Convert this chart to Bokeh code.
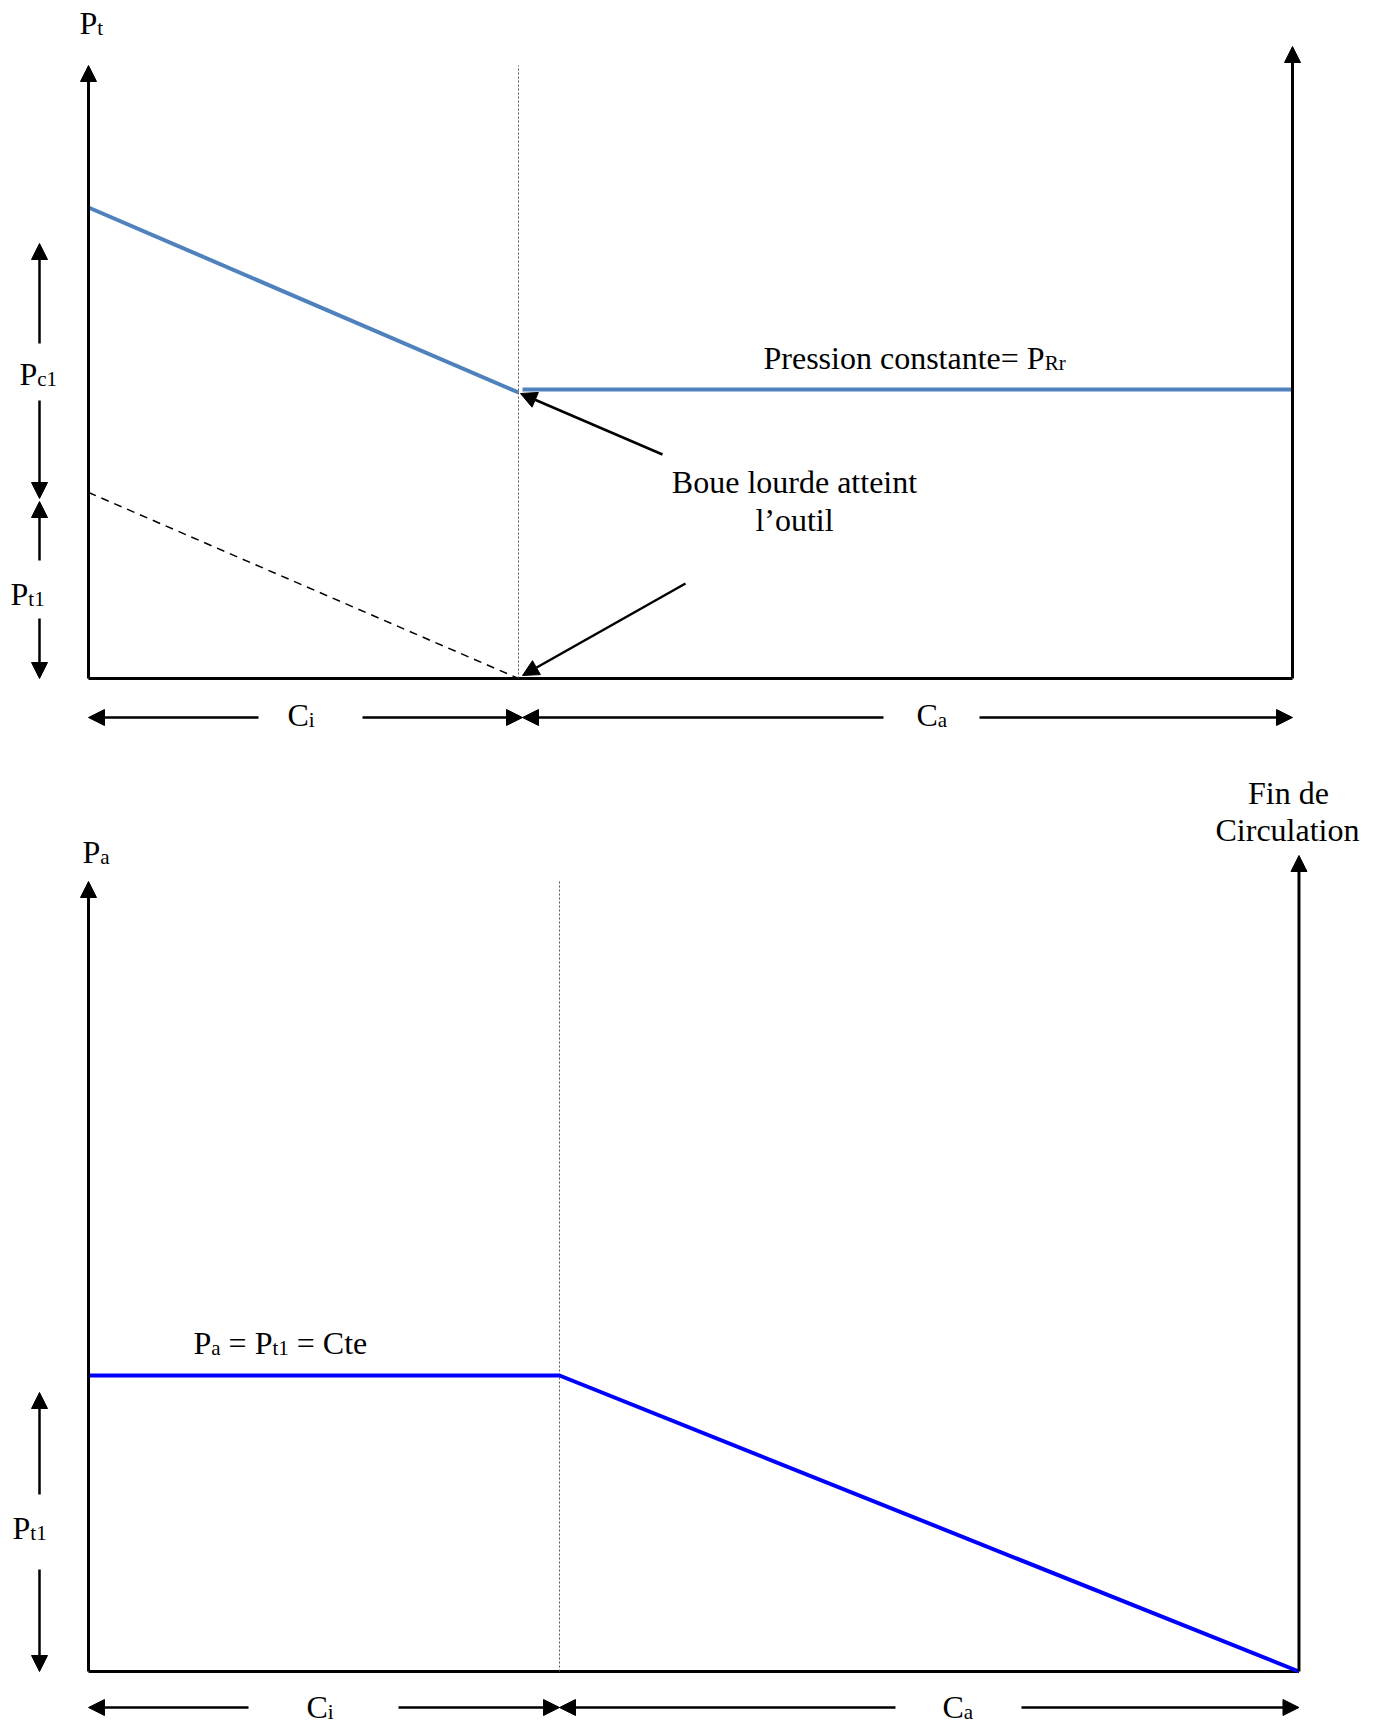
from bokeh.plotting import figure
from bokeh.layouts import column
from bokeh.models import Range1d, Arrow, NormalHead
from bokeh.core.properties import value
from bokeh.embed import file_html
from bokeh.resources import INLINE

# ---------------- data (schematic values) ----------------
# Top panel: drill-pipe pressure Pt versus pumped volume (strokes)
top_ci = 1000            # volume of the string (C_i)
top_ca = 1800            # volume of the annulus (C_a)
top_pt_start = 47.1      # initial circulating pressure
top_pt_bit = 28.6        # pressure when heavy mud reaches the bit
top_pt_const = 28.9      # constant pressure P_Rr
top_pt1 = 18.6           # shut-in drill-pipe pressure (dashed line start)

# Bottom panel: annulus pressure Pa versus pumped volume
bot_ci = 1000
bot_ca = 1570
bot_pa_const = 29.6      # Pa = Pt1 = Cte
bot_pa_end = 0.0

FONT = value("Liberation Serif")
MAIN = 32
SUB = 21
W = 1378
TOP_H = 760
BOT_H = 960
TS = 11   # text vertical correction (px)

# Times / Liberation Serif advance widths (per 1000 em)
TW = {'P': 556, 't': 278, 'c': 444, '1': 500, 'a': 444, 'R': 667, 'r': 333, 'i': 278,
      'C': 667, 'e': 444, ' ': 250, '=': 564, 's': 389, 'o': 500, 'n': 500}


def twidth(s, size):
    return sum(TW.get(ch, 500) for ch in s) * size / 1000.0


def make_panel(h, screen_top, x0, kx, y0, ky):
    fx = lambda sx: (sx - x0) / kx
    fy = lambda sy: (y0 - sy) / ky
    p = figure(width=W, height=h,
               x_range=Range1d(fx(0), fx(W)),
               y_range=Range1d(fy(screen_top + h), fy(screen_top)),
               output_backend="svg", toolbar_location=None,
               x_axis_type=None, y_axis_type=None,
               min_border=0, min_border_left=0, min_border_right=0,
               min_border_top=0, min_border_bottom=0,
               outline_line_color=None, background_fill_color="white",
               border_fill_color="white")
    return p, fx, fy


def arrow(p, x1, y1, x2, y2, lw=2.5):
    p.add_layout(Arrow(x_start=x1, y_start=y1, x_end=x2, y_end=y2,
                       line_width=lw, line_color="black",
                       end=NormalHead(size=16, fill_color="black",
                                      line_color="black", line_width=1)))


def rich(p, fx, fy, sx, sy, parts, shift=TS):
    """parts: list of (text, is_sub); sx, sy in screen px (left, baseline)."""
    x = sx
    sy = sy - shift
    for txt, is_sub in parts:
        size = SUB if is_sub else MAIN
        while txt.startswith(" "):
            x += twidth(" ", size)
            txt = txt[1:]
        yy = sy + (5 if is_sub else 0)
        p.text(x=[fx(x)], y=[fy(yy)], text=[txt], text_font=FONT,
               text_font_size=f"{size}px", text_baseline="alphabetic",
               text_align="left", text_color="black")
        x += twidth(txt, size)


def centered(p, fx, fy, sx, sy, txt):
    p.text(x=[fx(sx)], y=[fy(sy - TS)], text=[txt], text_font=FONT,
           text_font_size=f"{MAIN}px", text_baseline="alphabetic",
           text_align="center", text_color="black")


# ---------------- top panel ----------------
pt, fx, fy = make_panel(TOP_H, 0, 88, 0.43, 678, 10.0)
ttot = top_ci + top_ca

# axes
arrow(pt, 0, 0, 0, fy(65), lw=3)
arrow(pt, ttot, 0, ttot, fy(46), lw=3)
pt.line([0, ttot], [0, 0], line_color="black", line_width=3)
pt.line([top_ci, top_ci], [0, fy(65)], line_color="#555555", line_width=1, line_dash="2 2")

# data lines
pt.line([0, top_ci], [top_pt_start, top_pt_bit], line_color="#4F81BD", line_width=4)
pt.line([top_ci + fx(522) - fx(518), ttot], [top_pt_const, top_pt_const],
        line_color="#4F81BD", line_width=4)
pt.line([0, top_ci], [top_pt1, 0], line_color="black", line_width=1.5, line_dash="8 6")

# labels
rich(pt, fx, fy, 79, 33, [("P", False), ("t", True)])
rich(pt, fx, fy, 763, 368, [("Pression constante= P", False), ("Rr", True)])
centered(pt, fx, fy, 794, 492, "Boue lourde atteint")
centered(pt, fx, fy, 794, 530, "l\u2019outil")
arrow(pt, fx(662), fy(454), top_ci + fx(520) - fx(518), top_pt_bit - 0.1)
arrow(pt, fx(685), fy(583), top_ci + fx(522) - fx(518), fy(675))

# left dimension arrows Pc1 / Pt1
lx = fx(39)
arrow(pt, lx, fy(343), lx, fy(243))
arrow(pt, lx, fy(400), lx, fy(498))
rich(pt, fx, fy, 19, 384, [("P", False), ("c1", True)])
arrow(pt, lx, fy(560), lx, fy(501))
arrow(pt, lx, fy(618), lx, 0)
rich(pt, fx, fy, 10, 604, [("P", False), ("t1", True)])

# bottom dimension arrows Ci / Ca
dy = fy(717)
arrow(pt, fx(258), dy, 0, dy)
arrow(pt, fx(362), dy, top_ci + fx(522) - fx(518), dy)
rich(pt, fx, fy, 287, 725, [("C", False), ("i", True)])
arrow(pt, fx(883), dy, top_ci + fx(522) - fx(518), dy)
arrow(pt, fx(979), dy, ttot, dy)
rich(pt, fx, fy, 916, 725, [("C", False), ("a", True)])

# ---------------- bottom panel ----------------
pb, gx, gy = make_panel(BOT_H, TOP_H, 88, 0.471, 1671, 10.0)
btot = bot_ci + bot_ca

arrow(pb, 0, 0, 0, gy(881), lw=3)
arrow(pb, btot, 0, btot, gy(855), lw=3)
pb.line([0, btot], [0, 0], line_color="black", line_width=3)
pb.line([bot_ci, bot_ci], [0, gy(879)], line_color="#555555", line_width=1, line_dash="2 2")

pb.line([0, bot_ci, btot], [bot_pa_const, bot_pa_const, bot_pa_end],
        line_color="#0000FF", line_width=4)

rich(pb, gx, gy, 82, 862, [("P", False), ("a", True)])
centered(pb, gx, gy, 1288, 803, "Fin de")
centered(pb, gx, gy, 1287, 840, "Circulation")
rich(pb, gx, gy, 193, 1353, [("P", False), ("a", True), (" = P", False), ("t1", True), (" = Cte", False)])

lx2 = gx(39)
arrow(pb, lx2, gy(1494), lx2, gy(1392))
arrow(pb, lx2, gy(1569), lx2, 0)
rich(pb, gx, gy, 12, 1538, [("P", False), ("t1", True)])

dy2 = gy(1707)
arrow(pb, gx(248), dy2, 0, dy2)
arrow(pb, gx(398), dy2, bot_ci, dy2)
rich(pb, gx, gy, 306, 1713, [("C", False), ("i", True)], shift=7)
arrow(pb, gx(895), dy2, bot_ci, dy2)
arrow(pb, gx(1021), dy2, btot, dy2)
rich(pb, gx, gy, 942, 1713, [("C", False), ("a", True)], shift=7)

layout = column(pt, pb, spacing=0)
open("out.html", "w").write(file_html(layout, INLINE))
